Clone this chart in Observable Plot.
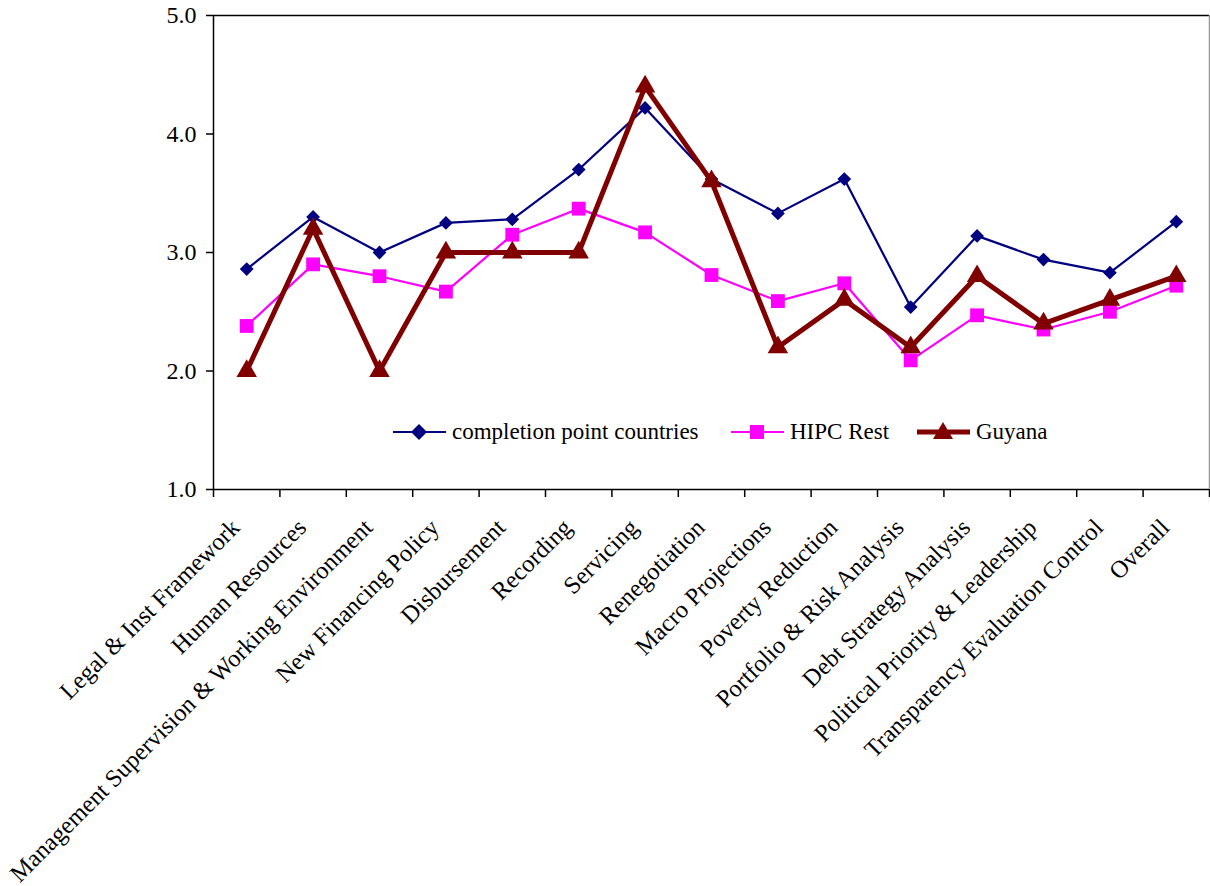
<!DOCTYPE html>
<html>
<head>
<meta charset="utf-8">
<script src="https://cdn.jsdelivr.net/npm/d3@7"></script>
<script src="https://cdn.jsdelivr.net/npm/@observablehq/plot@0.6"></script>
<style>
  html, body { margin: 0; padding: 0; background: #fff; }
  #wrap { position: relative; width: 1210px; height: 886px; }
  .leg { position: absolute; display: flex; align-items: center; font-family: "Liberation Serif", "Times New Roman", serif; font-size: 23px; color: #000; white-space: nowrap; }
  .leg svg { margin-right: 6px; }
</style>
</head>
<body>
<div id="wrap"></div>
<script>
const categories = [
  "Legal & Inst Framework", "Human Resources", "Management Supervision & Working Environment",
  "New Financing Policy", "Disbursement", "Recording", "Servicing", "Renegotiation",
  "Macro Projections", "Poverty Reduction", "Portfolio & Risk Analysis", "Debt Strategy Analysis",
  "Political Priority & Leadership", "Transparency Evaluation Control", "Overall"
];
const completionPoint = [2.86, 3.30, 3.00, 3.25, 3.28, 3.70, 4.22, 3.62, 3.33, 3.62, 2.54, 3.14, 2.94, 2.83, 3.26];
const hipcRest       = [2.38, 2.90, 2.80, 2.67, 3.15, 3.37, 3.17, 2.81, 2.59, 2.74, 2.09, 2.47, 2.35, 2.50, 2.72];
const guyana         = [2.0, 3.2, 2.0, 3.0, 3.0, 3.0, 4.4, 3.6, 2.2, 2.6, 2.2, 2.8, 2.4, 2.6, 2.8];
const yTicks = [1, 2, 3, 4, 5];
const seriesNames = ["completion point countries", "HIPC Rest", "Guyana"];
const seriesColors = ["#000080", "#FF00FF", "#800000"];

const idx = categories.map((_, i) => i);
const bounds = d3.range(categories.length + 1).map(k => k - 0.5);
const rows = (vals) => vals.map((v, i) => ({i, v}));

const chart = Plot.plot({
  width: 1210,
  height: 886,
  marginLeft: 213,
  marginRight: 1,
  marginTop: 15,
  marginBottom: 397,
  style: {fontFamily: "'Liberation Serif', 'Times New Roman', serif", fontSize: "24px", color: "#000", background: "#fff"},
  x: {type: "linear", domain: [-0.5, categories.length - 0.5], axis: null, label: null},
  y: {domain: [1, 5], axis: null, label: null},
  marks: [
    Plot.ruleY([5], {stroke: "#000", strokeWidth: 1.5}),
    Plot.ruleY([1], {stroke: "#000", strokeWidth: 1.5}),
    Plot.ruleX([-0.5], {stroke: "#000", strokeWidth: 1.5}),
    Plot.ruleX([categories.length - 0.5], {stroke: "#999", strokeWidth: 1.5}),
    Plot.axisY(yTicks, {label: null, tickSize: 7, tickPadding: 10, tickFormat: d => d.toFixed(1), fontSize: 24, strokeWidth: 1.5}),
    Plot.axisX(bounds, {label: null, tickSize: 8, tickFormat: () => "", strokeWidth: 1.5}),
    Plot.axisX(idx, {label: null, tickSize: 0, tickPadding: 34, dx: -11, tickRotate: -45, tickFormat: i => categories[i], fontSize: 24.5}),
    Plot.line(rows(completionPoint), {x: "i", y: "v", stroke: seriesColors[0], strokeWidth: 2.2}),
    Plot.dot(rows(completionPoint), {x: "i", y: "v", symbol: "diamond2", r: 6.2, fill: seriesColors[0]}),
    Plot.line(rows(hipcRest), {x: "i", y: "v", stroke: seriesColors[1], strokeWidth: 2.2}),
    Plot.dot(rows(hipcRest), {x: "i", y: "v", symbol: "square", r: 7.8, fill: seriesColors[1]}),
    Plot.line(rows(guyana), {x: "i", y: "v", stroke: seriesColors[2], strokeWidth: 5}),
    Plot.dot(rows(guyana), {x: "i", y: "v", symbol: "triangle", r: 7.6, fill: seriesColors[2]})
  ]
});
const wrap = document.getElementById("wrap");
wrap.appendChild(chart);

// legend overlay inside plot area
const legendPos = [393, 731, 917];
const symbolsSvg = [
  c => `<polygon points="26,2 34,10 26,18 18,10" fill="${c}"/>`,
  c => `<rect x="19" y="3" width="14" height="14" fill="${c}"/>`,
  c => `<polygon points="26,0 36,17 16,17" fill="${c}"/>`
];
const lw = [2.2, 2.2, 5];
seriesNames.forEach((name, k) => {
  const d = document.createElement("div");
  d.className = "leg";
  d.style.left = legendPos[k] + "px";
  d.style.top = "419px";
  d.innerHTML = `<svg width="53" height="20"><line x1="0" x2="53" y1="10" y2="10" stroke="${seriesColors[k]}" stroke-width="${lw[k]}"/>${symbolsSvg[k](seriesColors[k])}</svg><span>${name}</span>`;
  wrap.appendChild(d);
});
</script>
</body>
</html>
